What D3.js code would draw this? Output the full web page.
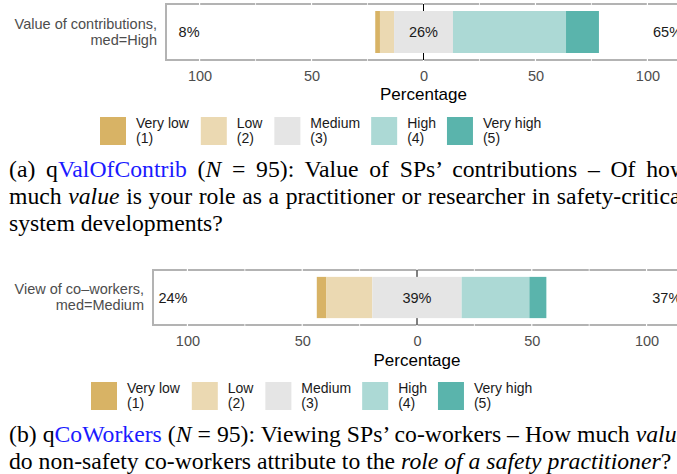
<!DOCTYPE html>
<html><head><meta charset="utf-8">
<script src="https://cdn.jsdelivr.net/npm/d3@7"></script>
<style>body{margin:0;background:#fff} svg{display:block}</style>
</head><body><svg id="c" width="677" height="474"></svg>
<script>
// ---- data ----
const levels = ["Very low", "Low", "Medium", "High", "Very high"];
const levelCodes = ["(1)", "(2)", "(3)", "(4)", "(5)"];
const colors = ["#D8B365", "#EBD9B2", "#E5E5E5", "#ACD9D5", "#5AB4AC"];
const itemA = ["Value of contributions,", "med=High"];
const valuesA = [2.1, 6.3, 26.3, 50.5, 14.7];
const itemB = ["View of co\u2013workers,", "med=Medium"];
const valuesB = [4.2, 20.0, 38.9, 29.5, 7.4];
const tickValues = [-100, -50, 0, 50, 100];
const tickLabels = ["100", "50", "0", "50", "100"];
const minorTicks = [-75, -25, 25, 75];
const axisTitle = "Percentage";

const captionA = [
  [{t: "(a) q"}, {t: "ValOfContrib", c: "#1a1aff"}, {t: " ("}, {t: "N", i: 1}, {t: " = 95): Value of SPs\u2019 contributions \u2013 Of how"}],
  [{t: "much "}, {t: "value", i: 1}, {t: " is your role as a practitioner or researcher in safety-critical"}],
  [{t: "system developments?"}]
];
const captionB = [
  [{t: "(b) q"}, {t: "CoWorkers", c: "#1a1aff"}, {t: " ("}, {t: "N", i: 1}, {t: " = 95): Viewing SPs\u2019 co-workers \u2013 How much "}, {t: "value", i: 1}],
  [{t: "do non-safety co-workers attribute to the "}, {t: "role of a safety practitioner", i: 1}, {t: "?"}]
];

const svg = d3.select("#c");
const SANS = "'Liberation Sans', Arial, Helvetica, sans-serif";
const SERIF = "'Liberation Serif', 'Times New Roman', serif";

function drawChart(cfg, item, values, caption) {
  const g = svg.append("g");
  const x = d3.scaleLinear().domain([-115, 115]).range([cfg.left, cfg.right]);
  const y = d3.scaleBand().domain(["item"]).range([cfg.top, cfg.bottom]).padding(1 / 7);

  // panel
  g.append("rect").attr("x", cfg.left).attr("y", cfg.top)
    .attr("width", cfg.right - cfg.left).attr("height", cfg.bottom - cfg.top)
    .attr("fill", "#fff").attr("stroke", "#B3B3B3").attr("stroke-width", 2);
  // grid (white, over border)
  g.selectAll(".gmin").data(minorTicks).join("line")
    .attr("x1", d => x(d)).attr("x2", d => x(d)).attr("y1", cfg.top - 1).attr("y2", cfg.bottom + 1)
    .attr("stroke", "#fff").attr("stroke-width", 0.8);
  g.selectAll(".gmaj").data(tickValues).join("line")
    .attr("x1", d => x(d)).attr("x2", d => x(d)).attr("y1", cfg.top - 1).attr("y2", cfg.bottom + 1)
    .attr("stroke", "#fff").attr("stroke-width", 1.2);
  // zero line
  g.append("line").attr("x1", x(0)).attr("x2", x(0)).attr("y1", cfg.top).attr("y2", cfg.bottom)
    .attr("stroke", "#000").attr("stroke-width", 1);

  // bars
  let start = -(values[0] + values[1] + values[2] / 2);
  const segs = values.map((v, i) => { const s = {x0: start, x1: start + v, i}; start += v; return s; });
  g.selectAll(".bar").data(segs).join("rect")
    .attr("x", d => x(d.x0)).attr("width", d => x(d.x1) - x(d.x0))
    .attr("y", y("item")).attr("height", y.bandwidth())
    .attr("fill", d => colors[d.i]);

  const cy = y("item") + y.bandwidth() / 2;
  const low = Math.round(values[0] + values[1]);
  const mid = Math.round(values[2]);
  const high = Math.round(values[3] + values[4]);
  const lab = g.append("g").attr("font-family", SANS).attr("font-size", 14.5).attr("fill", "#1a1a1a");
  lab.append("text").attr("x", x(-100)).attr("y", cy + 5).attr("text-anchor", "end").text(low + "%");
  lab.append("text").attr("x", x(0)).attr("y", cy + 5).attr("text-anchor", "middle").text(mid + "%");
  lab.append("text").attr("x", x(102.5)).attr("y", cy + 5).attr("text-anchor", "start").text(high + "%");

  // y label
  const yl = g.append("text").attr("font-family", SANS).attr("font-size", 14.5).attr("fill", "#4D4D4D")
    .attr("text-anchor", "end");
  yl.append("tspan").attr("x", cfg.left - 9).attr("y", cy - 3.5).text(item[0]);
  yl.append("tspan").attr("x", cfg.left - 9).attr("y", cy + 12.5).text(item[1]);

  // x axis
  const ax = g.append("g").attr("transform", `translate(0,${cfg.bottom})`)
    .call(d3.axisBottom(x).tickValues(tickValues).tickFormat((d, i) => tickLabels[i]).tickSize(0));
  ax.select(".domain").remove();
  ax.selectAll("text").attr("y", cfg.tickBase - cfg.bottom).attr("dy", null)
    .attr("font-family", SANS).attr("font-size", 14.5).attr("fill", "#4D4D4D");
  g.append("text").attr("x", x(0)).attr("y", cfg.titleBase).attr("text-anchor", "middle")
    .attr("font-family", SANS).attr("font-size", 17).attr("fill", "#000").text(axisTitle);

  // legend
  const lg = g.append("g").attr("font-family", SANS).attr("font-size", 14).attr("fill", "#1a1a1a");
  let lx = cfg.legX;
  levels.forEach((lv, i) => {
    lg.append("rect").attr("x", lx).attr("y", cfg.legTop).attr("width", 26).attr("height", 28).attr("fill", colors[i]);
    const t = lg.append("text");
    t.append("tspan").attr("x", lx + 36).attr("y", cfg.legTop + 11).text(lv);
    t.append("tspan").attr("x", lx + 36).attr("y", cfg.legTop + 25.5).text(levelCodes[i]);
    const w = t.node().getBBox().width;
    lx = lx + 36 + w + 11;
  });

  // caption
  caption.forEach((line, li) => {
    const t = g.append("text").attr("x", 9).attr("y", cfg.capBase + li * 27)
      .attr("font-family", SERIF).attr("font-size", 23.7).attr("fill", "#000");
    line.forEach(p => {
      const s = t.append("tspan").text(p.t);
      if (p.i) s.attr("font-style", "italic");
      if (p.c) s.attr("fill", p.c);
    });
    if (li < caption.length - 1) {
      const w = t.node().getComputedTextLength();
      const n = line.map(p => p.t).join("").split(" ").length - 1;
      t.style("word-spacing", ((687 - 9 - w) / n) + "px");
    }
  });
}

drawChart({left: 166, right: 681, top: 4, bottom: 60, tickBase: 81, titleBase: 100, legX: 100, legTop: 117, capBase: 176.5},
  itemA, valuesA, captionA);
drawChart({left: 153, right: 681, top: 270, bottom: 325, tickBase: 346, titleBase: 366, legX: 91, legTop: 382, capBase: 441.5},
  itemB, valuesB, captionB);
</script>
</body></html>
